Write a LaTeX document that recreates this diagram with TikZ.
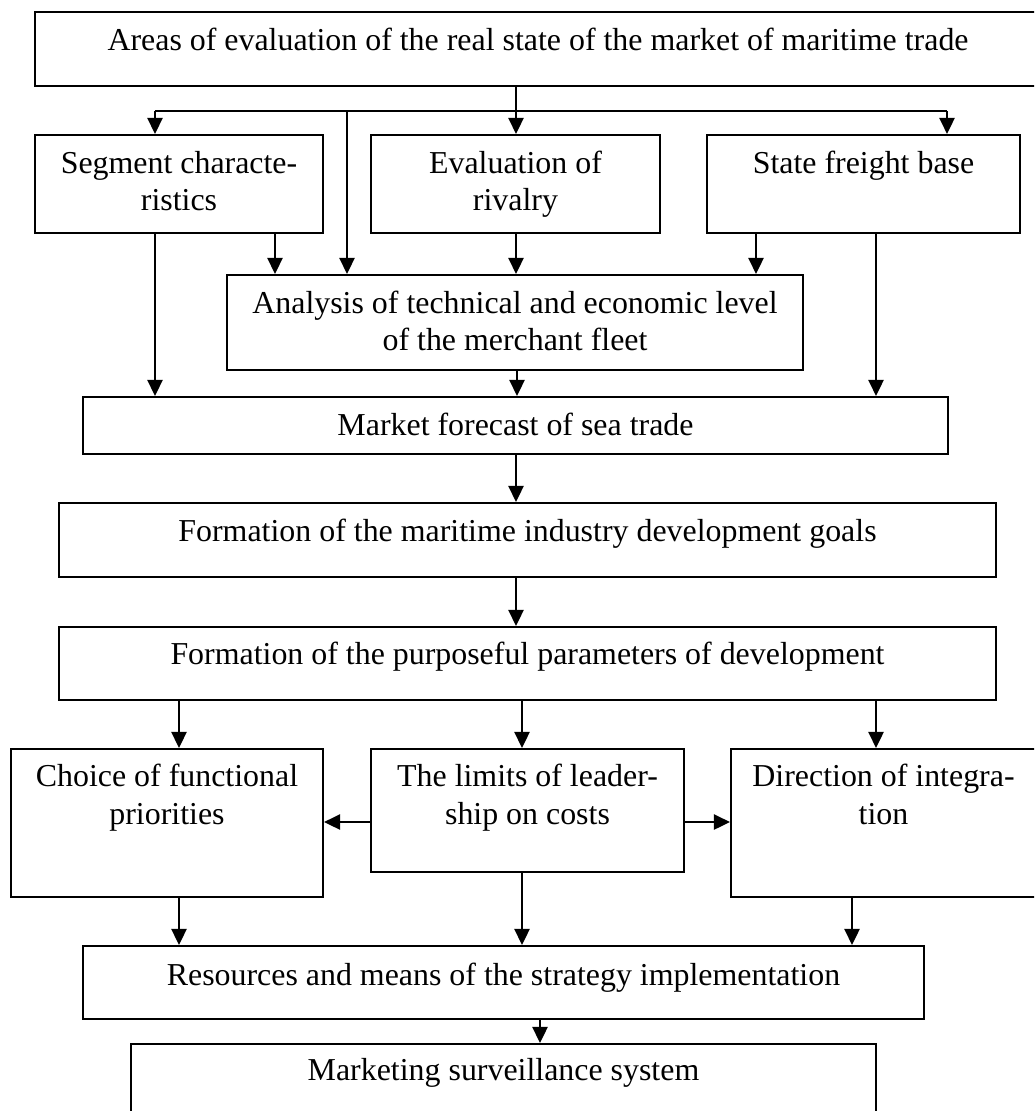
\documentclass[tikz,border=0pt]{standalone}
\usepackage{fontspec}
\setmainfont{Liberation Serif}
\usetikzlibrary{arrows.meta,calc}
\begin{document}
\begin{tikzpicture}[x=1pt,y=-1pt,
  box/.style={draw, line width=2.1pt, inner sep=0pt, rectangle},
  txt/.style={inner sep=0pt, anchor=base, font=\fontsize{31.9}{37}\selectfont},
  arr/.style={line width=2.6pt, -{Triangle[length=16pt,width=15pt]}},
  ln/.style={line width=2.6pt}]
\useasboundingbox (0,0) rectangle (1034,1111);
\clip (0,0) rectangle (1034,1111);
% boxes
\node[box, minimum width=1006pt, minimum height=74pt] (top) at (538,49) {};
\node[box, minimum width=288pt, minimum height=98pt] (seg) at (179,184) {};
\node[box, minimum width=289pt, minimum height=98pt] (eval) at (515.5,184) {};
\node[box, minimum width=313pt, minimum height=98pt] (state) at (863.5,184) {};
\node[box, minimum width=576pt, minimum height=95pt] (anal) at (515,322.5) {};
\node[box, minimum width=865pt, minimum height=57pt] (market) at (515.5,425.5) {};
\node[box, minimum width=937pt, minimum height=74pt] (goals) at (527.5,540) {};
\node[box, minimum width=937pt, minimum height=73pt] (params) at (527.5,663.5) {};
\node[box, minimum width=312pt, minimum height=148pt] (choice) at (167,823) {};
\node[box, minimum width=313pt, minimum height=123pt] (limits) at (527.5,810.5) {};
\node[box, minimum width=305pt, minimum height=148pt] (dir) at (883.5,823) {};
\node[box, minimum width=841pt, minimum height=73pt] (res) at (503.5,982.5) {};
\node[box, minimum width=745pt, minimum height=80pt] (mark) at (503.5,1084) {};
% texts
\node[txt] (t1) at ([yshift=-40pt]top.north) {Areas of evaluation of the real state of the market of maritime trade};
\node[txt] (t2a) at ([yshift=-40pt]seg.north) {Segment characte-};
\node[txt] (t2b) at ([yshift=-77pt]seg.north) {ristics};
\node[txt] (t3a) at ([yshift=-40pt]eval.north) {Evaluation of};
\node[txt] (t3b) at ([yshift=-77pt]eval.north) {rivalry};
\node[txt] (t4) at ([yshift=-40pt]state.north) {State freight base};
\node[txt] (t5a) at ([yshift=-40pt]anal.north) {Analysis of technical and economic level};
\node[txt] (t5b) at ([yshift=-77pt]anal.north) {of the merchant fleet};
\node[txt] (t6) at ([yshift=-40pt]market.north) {Market forecast of sea trade};
\node[txt] (t7) at ([yshift=-40pt]goals.north) {Formation of the maritime industry development goals};
\node[txt] (t8) at ([yshift=-39pt]params.north) {Formation of the purposeful parameters of development};
\node[txt] (t9a) at ([yshift=-39pt]choice.north) {Choice of functional};
\node[txt] (t9b) at ([yshift=-77pt]choice.north) {priorities};
\node[txt] (t10a) at ([yshift=-39pt]limits.north) {The limits of leader-};
\node[txt] (t10b) at ([yshift=-77pt]limits.north) {ship on costs};
\node[txt] (t11a) at ([yshift=-39pt]dir.north) {Direction of integra-};
\node[txt] (t11b) at ([yshift=-77pt]dir.north) {tion};
\node[txt] (t12) at ([yshift=-41pt]res.north) {Resources and means of the strategy implementation};
\node[txt] (t13) at ([yshift=-38pt]mark.north) {Marketing surveillance system};
% helper coordinates
\coordinate (hub) at (516,111);
\coordinate (hL) at (155,111);
\coordinate (hR) at (947,111);
\coordinate (hM) at (347,111);
\coordinate (x275) at (275,0);
\coordinate (x516) at (516,0);
\coordinate (x517) at (517,0);
\coordinate (x756) at (756,0);
\coordinate (x155) at (155,0);
\coordinate (x876) at (876,0);
\coordinate (x179) at (179,0);
\coordinate (x522) at (522,0);
\coordinate (x852) at (852,0);
\coordinate (x540) at (540,0);
\coordinate (y822) at (0,822);
% distribution
\draw[ln] (top.south -| hub) -- (hub);
\draw[ln] (hL) -- (hR);
\draw[arr] (hub) -- (hub |- eval.north);
\draw[arr] (hL) -- (hL |- seg.north);
\draw[arr] (hR) -- (hR |- state.north);
\draw[arr] (hM) -- (hM |- anal.north);
% into analysis
\draw[arr] (seg.south -| x275) -- (x275 |- anal.north);
\draw[arr] (eval.south -| x516) -- (x516 |- anal.north);
\draw[arr] (state.south -| x756) -- (x756 |- anal.north);
% into market
\draw[arr] (seg.south -| x155) -- (x155 |- market.north);
\draw[arr] (anal.south -| x517) -- (x517 |- market.north);
\draw[arr] (state.south -| x876) -- (x876 |- market.north);
% chain
\draw[arr] (market.south -| x516) -- (x516 |- goals.north);
\draw[arr] (goals.south -| x516) -- (x516 |- params.north);
\draw[arr] (params.south -| x179) -- (x179 |- choice.north);
\draw[arr] (params.south -| x522) -- (x522 |- limits.north);
\draw[arr] (params.south -| x876) -- (x876 |- dir.north);
\draw[arr] (limits.west |- y822) -- (choice.east |- y822);
\draw[arr] (limits.east |- y822) -- (dir.west |- y822);
\draw[arr] (choice.south -| x179) -- (x179 |- res.north);
\draw[arr] (limits.south -| x522) -- (x522 |- res.north);
\draw[arr] (dir.south -| x852) -- (x852 |- res.north);
\draw[arr] (res.south -| x540) -- (x540 |- mark.north);
\end{tikzpicture}
\end{document}
